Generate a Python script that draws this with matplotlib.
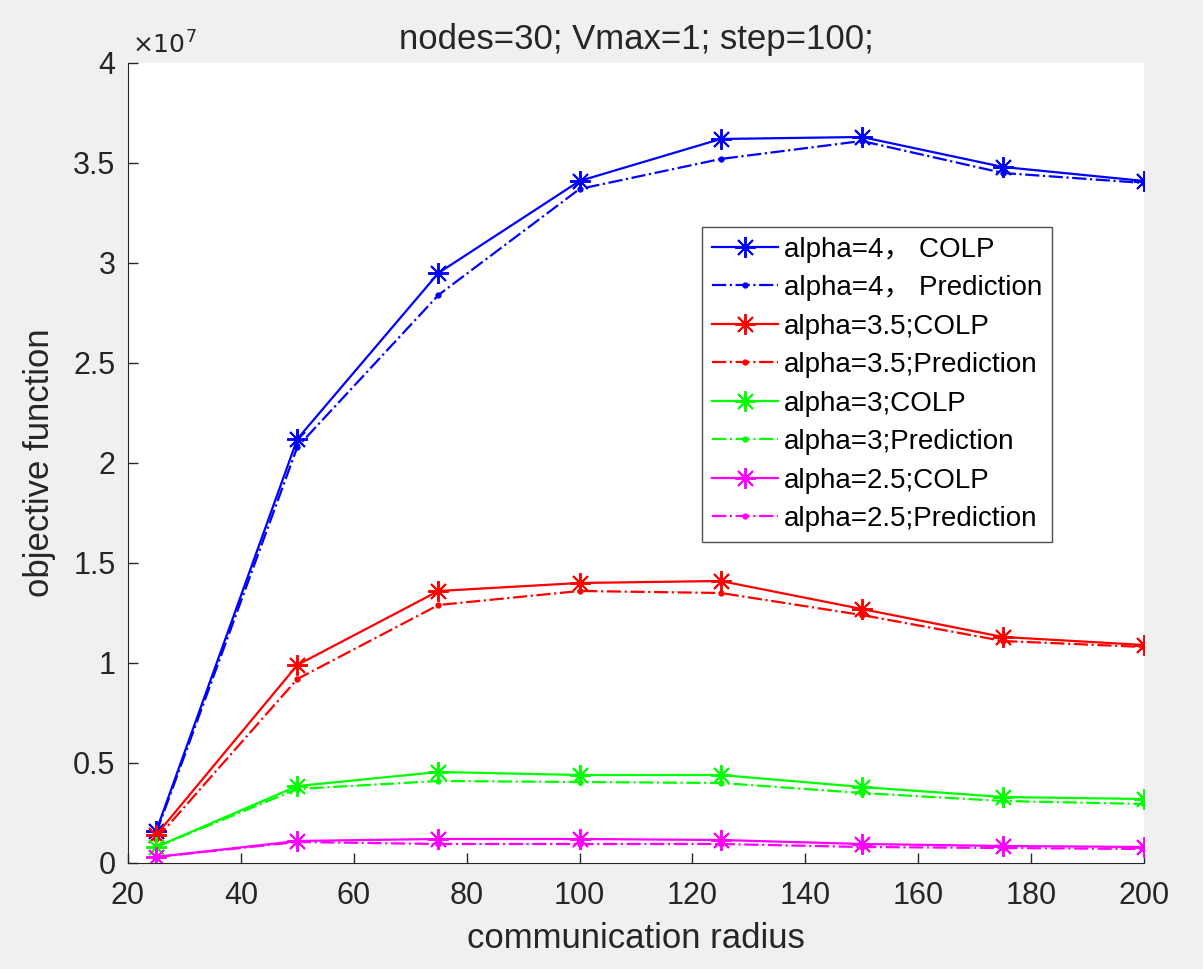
import numpy as np
import matplotlib
matplotlib.use("Agg")
import matplotlib.pyplot as plt
from matplotlib.ticker import FuncFormatter

plt.rcParams['font.family'] = ['Liberation Sans', 'Noto Sans CJK SC', 'DejaVu Sans']

radius = [25, 50, 75, 100, 125, 150, 175, 200]

# values in units of 1e7
a4_colp = [0.16, 2.12, 2.95, 3.41, 3.62, 3.63, 3.48, 3.41]
a4_pred = [0.15, 2.08, 2.84, 3.37, 3.52, 3.61, 3.45, 3.40]
a35_colp = [0.14, 0.99, 1.36, 1.40, 1.41, 1.27, 1.13, 1.09]
a35_pred = [0.12, 0.92, 1.29, 1.36, 1.35, 1.24, 1.11, 1.08]
a3_colp = [0.08, 0.385, 0.455, 0.44, 0.44, 0.38, 0.33, 0.32]
a3_pred = [0.08, 0.37, 0.41, 0.405, 0.40, 0.35, 0.31, 0.295]
a25_colp = [0.03, 0.11, 0.12, 0.12, 0.115, 0.095, 0.085, 0.08]
a25_pred = [0.03, 0.105, 0.095, 0.095, 0.095, 0.08, 0.075, 0.07]

labels = ['alpha=4\uff0c COLP', 'alpha=4\uff0c Prediction',
          'alpha=3.5;COLP', 'alpha=3.5;Prediction',
          'alpha=3;COLP', 'alpha=3;Prediction',
          'alpha=2.5;COLP', 'alpha=2.5;Prediction']

series = [a4_colp, a4_pred, a35_colp, a35_pred, a3_colp, a3_pred, a25_colp, a25_pred]
colors = ['#0000ff', '#0000ff', '#ff0000', '#ff0000', '#00ff00', '#00ff00', '#ff00ff', '#ff00ff']

fig = plt.figure(figsize=(12.03, 9.69), dpi=100, facecolor='#f0f0f0')
ax = fig.add_axes([0.1064, 0.1094, 0.8446, 0.8256])
ax.set_facecolor('white')

for i, (vals, c) in enumerate(zip(series, colors)):
    y = np.array(vals) * 1e7
    if i % 2 == 0:
        ax.plot(radius, y, '-', marker=(8, 2, 0), color=c, lw=1.6, ms=15, mew=1.4, label=labels[i])
    else:
        ax.plot(radius, y, '-.', marker='.', color=c, lw=1.6, ms=7, label=labels[i])

ax.set_xlim(20, 200)
ax.set_ylim(0, 4e7)
ax.set_xticks(np.arange(20, 201, 20))
ax.set_yticks(np.arange(0, 4.01e7, 0.5e7))
ax.yaxis.set_major_formatter(FuncFormatter(lambda v, p: '%g' % (v / 1e7)))
ax.tick_params(direction='in', length=7, width=1, labelsize=22, colors='#262626')
ax.tick_params(axis='x', pad=13)
ax.tick_params(axis='y', pad=9)
for s in ['top', 'right']:
    ax.spines[s].set_visible(False)
for s in ['left', 'bottom']:
    ax.spines[s].set_color('#262626')

ax.text(0.004, 1.012, r'$\times10^{7}$', transform=ax.transAxes, fontsize=18,
        color='#262626', ha='left', va='baseline', math_fontfamily='dejavusans')

ax.set_xlabel('communication radius', fontsize=25, color='#262626', labelpad=8)
ax.set_ylabel('objective function', fontsize=25, color='#262626', labelpad=12)
ax.set_title('nodes=30; Vmax=1; step=100;', fontsize=25, color='#262626', pad=10)

leg = ax.legend(loc='upper left', bbox_to_anchor=(0.565, 0.795), fontsize=20,
                frameon=True, fancybox=False, edgecolor='#262626',
                handlelength=2.4, handletextpad=0.2, labelspacing=0.45,
                borderpad=0.35, borderaxespad=0)
leg.get_frame().set_linewidth(1)

fig.savefig('out.png', dpi=100, facecolor=fig.get_facecolor())
